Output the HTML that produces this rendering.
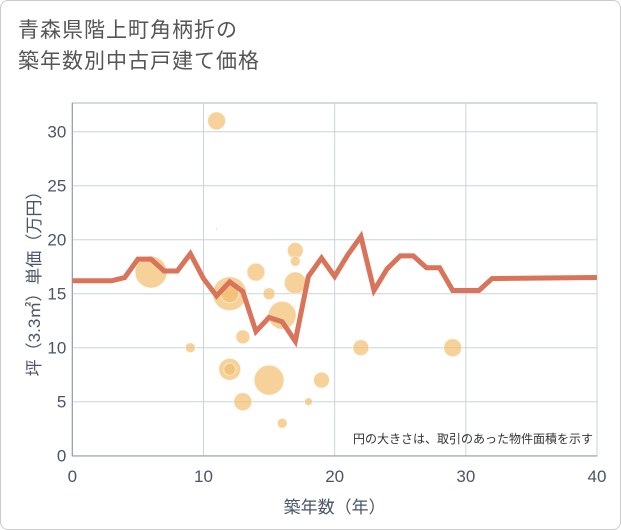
<!DOCTYPE html>
<html><head><meta charset="utf-8"><style>
body{margin:0;background:#fff;font-family:"Liberation Sans","Noto Sans CJK JP",sans-serif;}
#wrap{position:relative;width:619px;height:528px;border:1px solid #ccc;border-radius:8px;overflow:hidden;}
.title{position:absolute;left:17px;top:14px;font-size:21px;line-height:31px;color:#555;letter-spacing:1px;}
</style></head><body>
<div id="wrap">
<div class="title">青森県階上町角柄折の<br>築年数別中古戸建て価格</div>
<svg id="c" width="621" height="530" style="position:absolute;left:-1px;top:-1px"></svg>
</div>
<script>
const lineYears=[0,1,2,3,4,5,6,7,8,9,10,11,12,13,14,15,16,17,18,19,20,21,22,23,24,25,26,27,28,29,30,31,32,40];
const lineValues=[16.2,16.2,16.2,16.2,16.5,18.2,18.2,17.1,17.1,18.7,16.4,14.8,16.1,15.2,11.5,12.8,12.4,10.6,16.6,18.3,16.6,18.6,20.3,15.3,17.3,18.5,18.5,17.4,17.4,15.3,15.3,15.3,16.4,16.5];
const bubbleYears=[6,11,11,12,12,12,12,13,13,14,15,15,16,16,17,17,17,18,19,22,29,9];
const bubbleValues=[17,31,21,15,15,8,8,11,5,17,15,7,13,3,19,18,16,5,7,10,10,10];
const bubbleSizes=[16,9,1,17,9,11,6,7,9,9,6,15,14,5,8,5,11,4,8,8,9,5];
const xTicks=[0,10,20,30,40];
const yTicks=[0,5,10,15,20,25,30];
const NS="http://www.w3.org/2000/svg";
const svg=document.getElementById('c');
const L=72.3,R=597,T=103,B=456;
const sx=v=>L+v*(R-L)/40;
const sy=v=>455.7-v*10.8;
function mk(t,a,p){const e=document.createElementNS(NS,t);for(const k in a)e.setAttribute(k,a[k]);(p||svg).appendChild(e);return e;}
const bg=mk('rect',{x:L,y:T,width:R-L,height:B-T,fill:'#fff',stroke:'#aab4c4'});


yTicks.forEach(v=>{
 const g=mk('line',{x1:L,x2:R,y1:sy(v),y2:sy(v),stroke:'#c8d3e0','stroke-width':1});
 
 
 const t=mk('text',{x:L-6,y:sy(v)+6,'text-anchor':'end','font-size':17,fill:'#4a5568'});t.textContent=v;
 
 
});
xTicks.forEach(v=>{
 const g=mk('line',{x1:sx(v),x2:sx(v),y1:T,y2:B,stroke:'#c8d3e0','stroke-width':1});
 
 
 const t=mk('text',{x:sx(v),y:482,'text-anchor':'middle','font-size':17,fill:'#4a5568'});t.textContent=v;
 
 
});
mk('line',{x1:L,x2:L,y1:T,y2:B,stroke:'#8c97a8'});
mk('line',{x1:L,x2:R,y1:B,y2:B,stroke:'#8c97a8'});
bubbleYears.forEach((x,i)=>{
 const c=mk('circle',{cx:sx(x),cy:sy(bubbleValues[i]),r:bubbleSizes[i],fill:'rgba(242,190,110,0.7)',stroke:'rgba(255,255,255,0.6)','stroke-width':1});
 
 
});
const pl=mk('polyline',{points:lineYears.map((x,i)=>sx(x)+','+sy(lineValues[i])).join(' '),fill:'none',stroke:'#d9735a','stroke-width':5,'stroke-linejoin':'miter'});


const n=mk('text',{x:593,y:443,'text-anchor':'end','font-size':12,fill:'#333'});n.textContent='円の大きさは、取引のあった物件面積を示す';


const xt=mk('text',{x:sx(20),y:513,'text-anchor':'middle','font-size':17,fill:'#4a5568'});xt.textContent='築年数（年）';


const yt=mk('text',{x:0,y:0,'text-anchor':'middle','font-size':17,fill:'#4a5568',transform:'translate(40,'+((T+B)/2)+') rotate(-90)'});yt.textContent='坪（3.3㎡）単価（万円）';


</script>
</body></html>
